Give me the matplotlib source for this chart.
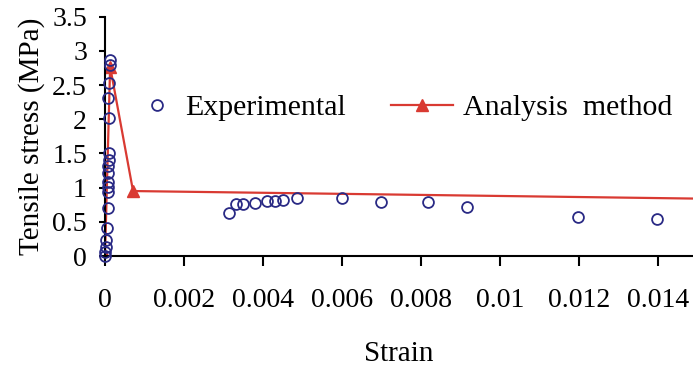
import matplotlib
matplotlib.use("Agg")
import matplotlib.pyplot as plt

# Experimental data (strain, stress MPa)
exp_strain = [0.0, 0.00001, 0.00002, 0.00003, 0.00004, 0.00008, 0.00008, 0.00008,
              0.00008, 0.00007, 0.00008, 0.00009, 0.0001, 0.0001, 0.00008, 0.0001,
              0.00012, 0.00013,
              0.00315, 0.00332, 0.0035, 0.0038, 0.00411, 0.0043, 0.00451, 0.00487,
              0.00599, 0.00698, 0.00817, 0.00916, 0.01198, 0.01397]
exp_stress = [0.0, 0.06, 0.13, 0.23, 0.41, 0.70, 0.94, 1.01,
              1.08, 1.21, 1.31, 1.40, 1.51, 2.02, 2.31, 2.53,
              2.80, 2.87,
              0.63, 0.76, 0.76, 0.78, 0.80, 0.80, 0.82, 0.845,
              0.845, 0.795, 0.795, 0.71, 0.575, 0.54]

# Analysis method (strain, stress MPa)
ana_strain = [0.0, 0.00013, 0.00071, 0.0175]
ana_stress = [0.0, 2.77, 0.95, 0.82]

xticks = [0, 0.002, 0.004, 0.006, 0.008, 0.010, 0.012, 0.014]
xticklabels = ["0", "0.002", "0.004", "0.006", "0.008", "0.01", "0.012", "0.014"]
yticks = [0, 0.5, 1, 1.5, 2, 2.5, 3, 3.5]
yticklabels = ["0", "0.5", "1", "1.5", "2", "2.5", "3", "3.5"]

plt.rcParams['font.family'] = ['Liberation Serif', 'DejaVu Serif']

fig = plt.figure(figsize=(6.93, 3.67), dpi=100)
ax = fig.add_axes([105/693, 1-256/367, 1-105/693, (256-16.7)/367])

h_exp, = ax.plot(exp_strain, exp_stress, linestyle='none', marker='o', markersize=7.8,
                 markerfacecolor='none', markeredgecolor='#2a2a85', markeredgewidth=1.3,
                 label='Experimental', zorder=3, clip_on=False)
h_ana, = ax.plot(ana_strain, ana_stress, color='#d93a32', linewidth=1.6, marker='^',
                 markersize=9, markerfacecolor='#d93a32', markeredgecolor='#d93a32',
                 label='Analysis  method', zorder=2)

ax.set_xlim(0, (693-105)/39500)
ax.set_ylim(0, 3.5)
ax.set_xticks(xticks)
ax.set_xticklabels(xticklabels)
ax.set_yticks(yticks)
ax.set_yticklabels(yticklabels)

for s in ['top', 'right']:
    ax.spines[s].set_visible(False)
for s in ['left', 'bottom']:
    ax.spines[s].set_linewidth(1.5)
    ax.spines[s].set_color('black')

ax.tick_params(axis='x', direction='out', length=7, width=1.5, pad=16,
               labelsize=20, colors='black')
ax.tick_params(axis='y', direction='out', length=4, width=1.5, pad=9,
               labelsize=20, colors='black')

ax.set_xlabel('Strain', fontsize=21, labelpad=20)
ax.set_ylabel('Tensile stress (MPa)', fontsize=21, labelpad=5)

ycen = 1 - 108/367
leg1 = ax.legend(handles=[h_exp], loc='center left', bbox_to_anchor=(142/693, ycen),
                 bbox_transform=fig.transFigure, frameon=False,
                 fontsize=21.5, numpoints=1, handlelength=1.0, handletextpad=0.43,
                 borderpad=0, borderaxespad=0)
ax.add_artist(leg1)
leg2 = ax.legend(handles=[h_ana], loc='center left', bbox_to_anchor=(391/693, ycen),
                 bbox_transform=fig.transFigure, frameon=False,
                 fontsize=21.5, numpoints=1, handlelength=2.07, handletextpad=0.33,
                 borderpad=0, borderaxespad=0)

fig.savefig('out.png', dpi=100)
